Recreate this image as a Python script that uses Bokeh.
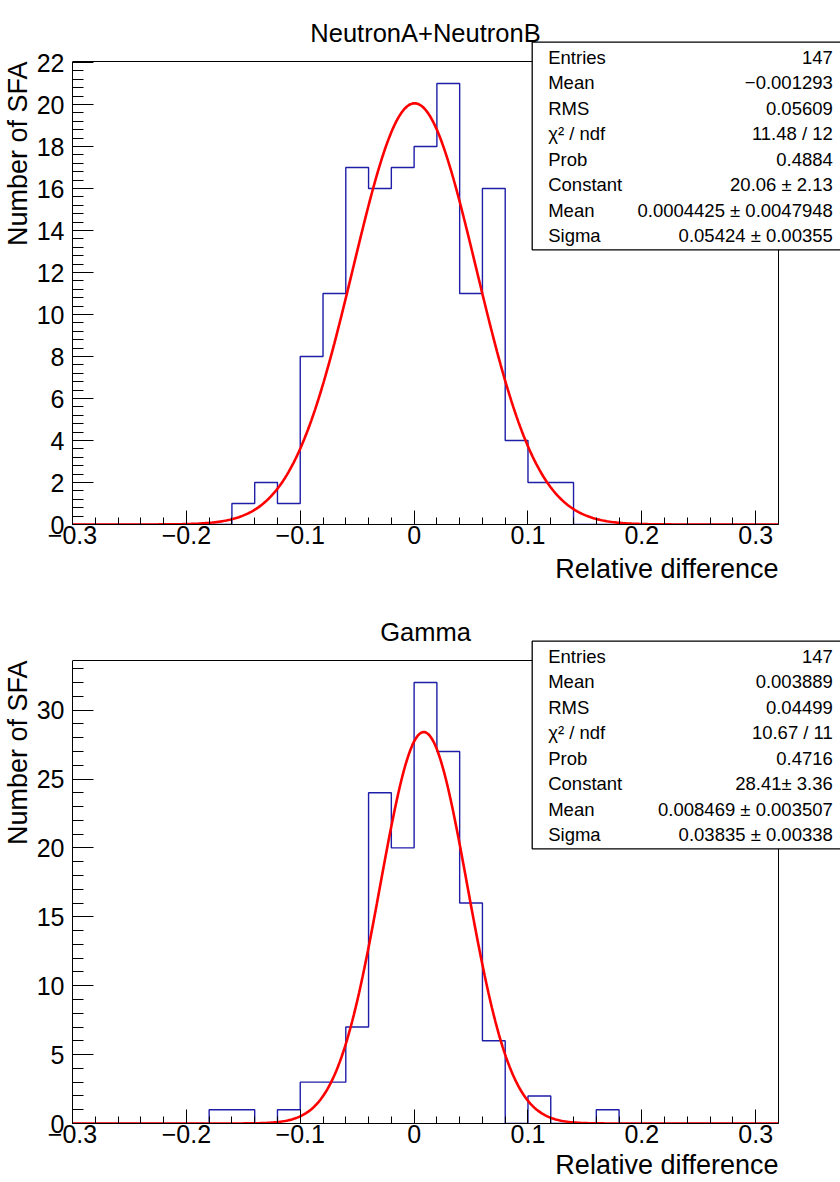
import numpy as np
from bokeh.plotting import figure
from bokeh.layouts import column
from bokeh.models import (Range1d, SingleIntervalTicker, FixedTicker,
                          CustomJSTickFormatter, Label, BoxAnnotation, Title)
from bokeh.embed import file_html
from bokeh.resources import INLINE

# ---------------- data ----------------
bin_low = -0.30
bin_high = 0.32
bin_width = 0.02
n_bins = 31

counts_neutron = [0, 0, 0, 0, 0, 0, 0, 1, 2, 1, 8, 11, 17, 16, 17, 18,
                  21, 11, 16, 4, 2, 2, 0, 0, 0, 0, 0, 0, 0, 0, 0]
counts_gamma = [0, 0, 0, 0, 0, 0, 1, 1, 0, 1, 3, 3, 7, 24, 20, 32,
                27, 16, 6, 0, 2, 0, 0, 1, 0, 0, 0, 0, 0, 0, 0]

fit_neutron = dict(constant=20.06, mean=0.0004425, sigma=0.05424)
fit_gamma = dict(constant=28.41, mean=0.008469, sigma=0.03835)

y_max_neutron = 22.05
y_max_gamma = 33.6

titles = ["NeutronA+NeutronB", "Gamma"]
x_title = "Relative difference"
y_title = "Number of SFA"

x_tick_values = [-0.3, -0.2, -0.1, 0.0, 0.1, 0.2, 0.3]
x_tick_labels = ["\u22120.3", "\u22120.2", "\u22120.1", "0", "0.1", "0.2", "0.3"]

stat_names = ["Entries", "Mean", "RMS", "\u03c7\u00b2 / ndf", "Prob",
              "Constant", "Mean", "Sigma"]
stat_values_neutron = ["147", "\u22120.001293", "0.05609", "11.48 / 12", "0.4884",
                       "20.06 \u00b1 2.13", "0.0004425 \u00b1 0.0047948",
                       "0.05424 \u00b1 0.00355"]
stat_values_gamma = ["147", "0.003889", "0.04499", "10.67 / 11", "0.4716",
                     "28.41\u00b1 3.36", "0.008469 \u00b1 0.003507",
                     "0.03835 \u00b1 0.00338"]

FONT = "Liberation Sans"

# layout geometry (pixels)
FIG_W = 840
BORDER_LEFT = 72
FRAME_W = 706          # visible ROOT frame width
FRAME_H = 463          # visible ROOT frame height
EXT_W = FIG_W - BORDER_LEFT   # bokeh frame extends to the right edge


def make_panel(counts, fit, y_hi, title, stat_values, y_interval, height,
               ext_h, xtitle_standoff):
    x_end = bin_low + (bin_high - bin_low) * EXT_W / FRAME_W
    y_end = y_hi * ext_h / FRAME_H
    p = figure(width=FIG_W, height=height,
               x_range=Range1d(bin_low, x_end), y_range=Range1d(0, y_end),
               output_backend="svg", toolbar_location=None,
               min_border_left=BORDER_LEFT, min_border_right=0,
               min_border_top=0, min_border_bottom=height - ext_h)
    p.grid.visible = False
    p.outline_line_color = None
    p.background_fill_color = "white"
    p.border_fill_color = "white"

    # axes (ROOT style inward ticks)
    edges = [bin_low + bin_width * i for i in range(n_bins + 1)]
    xa = p.xaxis[0]
    xa.bounds = (bin_low, bin_high)
    xa.ticker = FixedTicker(ticks=x_tick_values, minor_ticks=edges)
    xa.formatter = CustomJSTickFormatter(
        args=dict(tvals=x_tick_values, tlabels=x_tick_labels),
        code="""
        for (let i = 0; i < tvals.length; i++) {
            if (Math.abs(tvals[i] - tick) < 1e-6) return tlabels[i];
        }
        return "";
        """)
    xa.major_tick_in = 14
    xa.major_tick_out = 0
    xa.minor_tick_in = 7
    xa.minor_tick_out = 0
    xa.major_label_standoff = 1

    ya = p.yaxis[0]
    ya.bounds = (0, y_hi)
    ya.ticker = SingleIntervalTicker(interval=y_interval, num_minor_ticks=5)
    ya.major_tick_in = 21
    ya.major_tick_out = 0
    ya.minor_tick_in = 11
    ya.minor_tick_out = 0
    ya.major_label_standoff = 8

    for ax in (xa, ya):
        ax.axis_line_color = "black"
        ax.major_tick_line_color = "black"
        ax.minor_tick_line_color = "black"
        ax.major_label_text_font = FONT
        ax.major_label_text_font_size = "25px"
        ax.major_label_text_color = "black"

    # top and right sides of the ROOT frame
    p.segment(x0=[bin_low, bin_high], y0=[y_hi, 0], x1=[bin_high, bin_high],
              y1=[y_hi, y_hi], line_color="black", line_width=1)

    # histogram
    p.step(x=edges, y=list(counts) + [counts[-1]], mode="after",
           line_color="#1e1ea8", line_width=1.4)

    # gaussian fit
    xs = np.linspace(bin_low, bin_high, 400)
    ys = fit["constant"] * np.exp(-0.5 * ((xs - fit["mean"]) / fit["sigma"]) ** 2)
    p.line(xs, ys, line_color="#ff0000", line_width=2.6)

    # stat box
    p.add_layout(BoxAnnotation(left=459.7, right=769, top=482.3, bottom=274.7,
                               left_units="screen", right_units="screen",
                               top_units="screen", bottom_units="screen",
                               fill_color="white", fill_alpha=1,
                               line_color="black", line_alpha=1,
                               line_width=1.3))
    for i, (name, val) in enumerate(zip(stat_names, stat_values)):
        fy = 467.3 - 25.5 * i
        p.add_layout(Label(x=475.7, y=fy, x_units="screen", y_units="screen",
                           text=name, text_font=FONT, text_font_size="18.5px",
                           text_align="left", text_baseline="middle",
                           text_color="black"))
        p.add_layout(Label(x=760.3, y=fy, x_units="screen", y_units="screen",
                           text=val, text_font=FONT, text_font_size="18.5px",
                           text_align="right", text_baseline="middle",
                           text_color="black"))

    # plot title (inside the extended frame area)
    p.add_layout(Label(x=FRAME_W / 2, y=492, x_units="screen", y_units="screen",
                       text=title, text_font=FONT, text_font_size="25.5px",
                       text_align="center", text_baseline="alphabetic",
                       text_color="black"))

    # axis titles
    p.add_layout(Title(text=x_title, align="right", offset=(EXT_W - FRAME_W),
                       text_font=FONT, text_font_size="27px",
                       text_font_style="normal", text_color="black",
                       standoff=xtitle_standoff), "below")
    p.add_layout(Title(text=y_title, align="right",
                       offset=(ext_h - FRAME_H),
                       text_font=FONT, text_font_size="27px",
                       text_font_style="normal", text_color="black",
                       standoff=1), "left")
    return p


p1 = make_panel(counts_neutron, fit_neutron, y_max_neutron, titles[0],
                stat_values_neutron, 2, 607, 524, 10)
p2 = make_panel(counts_gamma, fit_gamma, y_max_gamma, titles[1],
                stat_values_gamma, 5, 575, 516, 5)

layout = column(p1, p2, spacing=0)
open("out.html", "w").write(file_html(layout, INLINE))
